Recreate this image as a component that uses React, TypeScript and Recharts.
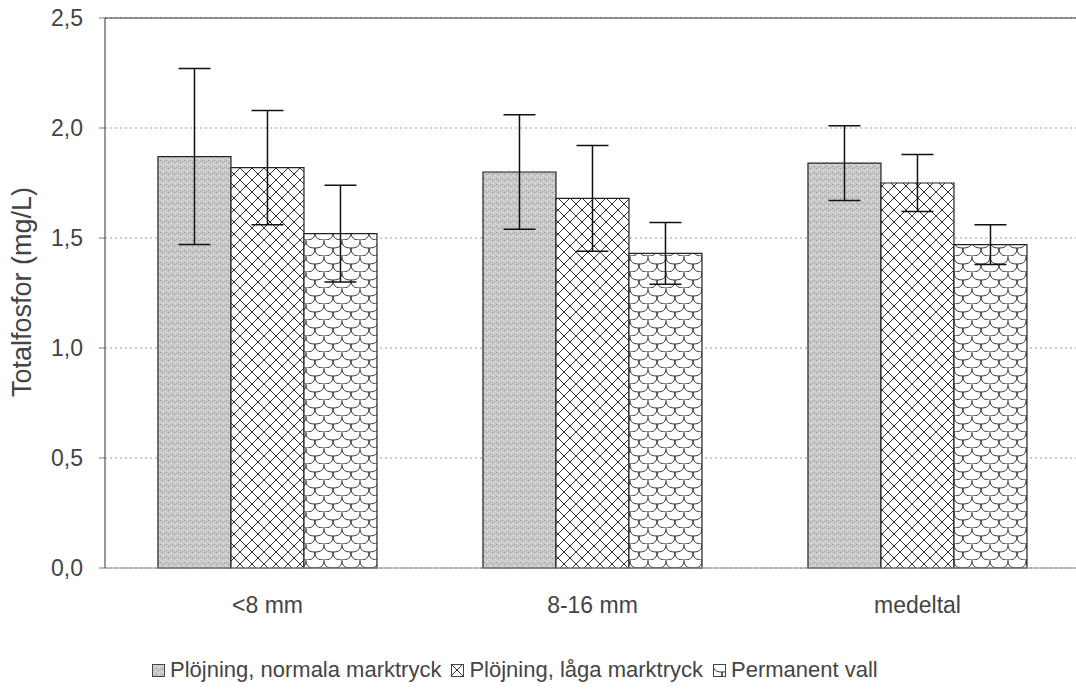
import React from "react";
import {
  BarChart,
  Bar,
  XAxis,
  YAxis,
  CartesianGrid,
  ErrorBar,
  Legend,
  ReferenceLine,
} from "recharts";

const categories = ["<8 mm", "8-16 mm", "medeltal"];
const normalValues = [1.87, 1.8, 1.84];
const normalErrors = [0.4, 0.26, 0.17];
const lowValues = [1.82, 1.68, 1.75];
const lowErrors = [0.26, 0.24, 0.13];
const permanentValues = [1.52, 1.43, 1.47];
const permanentErrors = [0.22, 0.14, 0.09];
const yTicks = [0, 0.5, 1, 1.5, 2, 2.5];
const boundaryTicks = [0, 1, 2, 3];

const seriesNames = [
  "Plöjning, normala marktryck",
  "Plöjning, låga marktryck",
  "Permanent vall",
];
const patternIds = ["patNormal", "patLow", "patPerm"];

const data = categories.map((c, i) => ({
  name: c,
  normal: normalValues[i],
  normalErr: normalErrors[i],
  low: lowValues[i],
  lowErr: lowErrors[i],
  perm: permanentValues[i],
  permErr: permanentErrors[i],
}));

const FONT = "'Liberation Sans', Arial, sans-serif";
const TEXT = "#444";

const fmt = (v: number) => v.toFixed(1).replace(".", ",");

const Patterns = () => (
  <defs>
    <pattern id="patNormal" width="6" height="6" patternUnits="userSpaceOnUse">
      <rect width="6" height="6" fill="#c9c9c9" />
      <rect x="0" y="0" width="1" height="1" fill="#8e8e8e" />
      <rect x="3" y="1" width="1" height="1" fill="#e8e8e8" />
      <rect x="1" y="3" width="1" height="1" fill="#ebebeb" />
      <rect x="4" y="4" width="1" height="1" fill="#959595" />
      <rect x="2" y="5" width="1" height="1" fill="#a8a8a8" />
      <rect x="5" y="2" width="1" height="1" fill="#e0e0e0" />
    </pattern>
    <pattern id="patLow" width="12" height="12" patternUnits="userSpaceOnUse">
      <rect width="12" height="12" fill="#fff" />
      <path d="M0,0 L12,12 M12,0 L0,12" stroke="#333" strokeWidth="1" />
    </pattern>
    <pattern id="patPerm" width="18" height="16" patternUnits="userSpaceOnUse">
      <rect width="18" height="16" fill="#fff" />
      <path
        d="M0,0 C0,6 3,8 9,8 C15,8 18,6 18,0 M-9,8 C-9,14 -6,16 0,16 C6,16 9,14 9,8 M9,8 C9,14 12,16 18,16 C24,16 27,14 27,8"
        stroke="#333"
        strokeWidth="1"
        fill="none"
      />
    </pattern>
  </defs>
);

const renderLegend = () => (
  <div
    style={{
      display: "flex",
      alignItems: "center",
      fontFamily: FONT,
      fontSize: 22,
      color: TEXT,
      whiteSpace: "nowrap",
      lineHeight: "30px",
    }}
  >
    {seriesNames.map((n, i) => (
      <span key={n} style={{ display: "flex", alignItems: "center", marginRight: 10 }}>
        <svg width="13" height="13" style={{ marginRight: 5 }}>
          <rect x="0.5" y="0.5" width="12" height="12" fill={`url(#${patternIds[i]})`} stroke="#444" />
        </svg>
        {n}
      </span>
    ))}
  </div>
);

const YLabel = () => (
  <text
    x={22}
    y={292}
    transform="rotate(-90 22 292)"
    textAnchor="middle"
    dominantBaseline="central"
    fontFamily={FONT}
    fontSize={27}
    fill={TEXT}
  >
    Totalfosfor (mg/L)
  </text>
);

export default function App() {
  return (
    <div
      style={{
        position: "absolute",
        left: 0,
        top: 0,
        width: 1076,
        height: 690,
        overflow: "hidden",
        background: "#fff",
      }}
    >
      <BarChart
        width={1080}
        height={690}
        data={data}
        margin={{ top: 18, right: 0, left: 0, bottom: 32 }}
        barCategoryGap="16.3%"
        barGap={0}
      >
        <Patterns />
        <CartesianGrid vertical={false} stroke="#999" strokeDasharray="2 3" />
        <XAxis
          xAxisId="bounds"
          type="number"
          domain={[0, 3]}
          ticks={boundaryTicks}
          height={0}
          axisLine={false}
          tick={false}
          tickLine={{ stroke: "#aaa" }}
          tickSize={5}
        />
        <XAxis
          dataKey="name"
          height={60}
          axisLine={{ stroke: "#888" }}
          tickLine={false}
          tickMargin={23}
          tick={{ fontSize: 23, fill: TEXT, fontFamily: FONT }}
        />
        <YAxis
          width={105}
          domain={[0, 2.5]}
          ticks={yTicks}
          tickFormatter={fmt}
          axisLine={{ stroke: "#333" }}
          tickLine={{ stroke: "#777" }}
          tickSize={6}
          tickMargin={16}
          tick={{ fontSize: 23, fill: TEXT, fontFamily: FONT }}
          label={<YLabel />}
        />
        <ReferenceLine y={2.5} stroke="#333" strokeWidth={1} />
        <Legend
          content={renderLegend}
          wrapperStyle={{ left: 152, top: 655, width: "auto", height: 30 }}
        />
        <Bar dataKey="normal" name={seriesNames[0]} fill="url(#patNormal)" stroke="#222" strokeWidth={1.2} isAnimationActive={false}>
          <ErrorBar dataKey="normalErr" width={16} stroke="#111" strokeWidth={1.5} direction="y" />
        </Bar>
        <Bar dataKey="low" name={seriesNames[1]} fill="url(#patLow)" stroke="#222" strokeWidth={1.2} isAnimationActive={false}>
          <ErrorBar dataKey="lowErr" width={16} stroke="#111" strokeWidth={1.5} direction="y" />
        </Bar>
        <Bar dataKey="perm" name={seriesNames[2]} fill="url(#patPerm)" stroke="#222" strokeWidth={1.2} isAnimationActive={false}>
          <ErrorBar dataKey="permErr" width={16} stroke="#111" strokeWidth={1.5} direction="y" />
        </Bar>
      </BarChart>
    </div>
  );
}
